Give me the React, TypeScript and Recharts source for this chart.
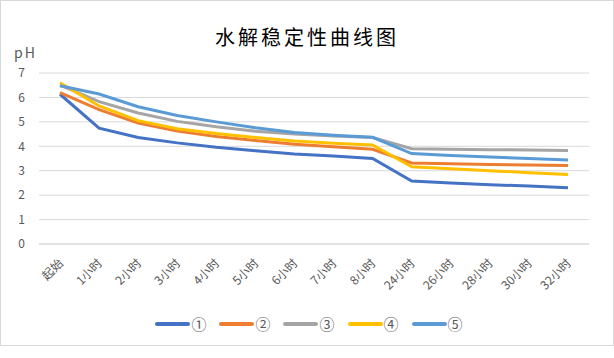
import React from 'react';
import { LineChart, Line, XAxis, YAxis, CartesianGrid, Legend } from 'recharts';

const categories = ['起始', '1小时', '2小时', '3小时', '4小时', '5小时', '6小时', '7小时', '8小时', '24小时', '26小时', '28小时', '30小时', '32小时'];
const s1 = [6.13, 4.74, 4.36, 4.14, 3.96, 3.82, 3.68, 3.6, 3.5, 2.58, 2.5, 2.43, 2.37, 2.3];
const s2 = [6.2, 5.5, 4.95, 4.62, 4.4, 4.24, 4.08, 3.98, 3.88, 3.32, 3.28, 3.25, 3.23, 3.21];
const s3 = [6.5, 5.83, 5.36, 5.02, 4.8, 4.62, 4.5, 4.42, 4.36, 3.9, 3.88, 3.86, 3.85, 3.83];
const s4 = [6.6, 5.65, 5.05, 4.72, 4.52, 4.36, 4.22, 4.12, 4.05, 3.16, 3.08, 3.0, 2.92, 2.85];
const s5 = [6.48, 6.14, 5.62, 5.26, 5.0, 4.76, 4.56, 4.45, 4.37, 3.7, 3.62, 3.56, 3.5, 3.44];
const seriesNames = ['①', '②', '③', '④', '⑤'];
const seriesColors = ['#4472C4', '#ED7D31', '#A5A5A5', '#FFC000', '#5B9BD5'];
const yTicks = [0, 1, 2, 3, 4, 5, 6, 7];

const allSeries = [s1, s2, s3, s4, s5];
const data = categories.map((c, i) => {
  const row: any = { name: c };
  allSeries.forEach((s, k) => { row['s' + k] = s[i]; });
  return row;
});

const font = '"Noto Sans CJK SC", "Microsoft YaHei", sans-serif';

const XTick = (props: any) => {
  const { x, y, payload } = props;
  const ax = x + 4;
  const ay = y + 12;
  return (
    <text x={ax} y={ay} transform={`rotate(-45, ${ax}, ${ay})`} textAnchor="end"
      fontSize={12} fill="#595959" fontFamily={font}>
      {payload.value}
    </text>
  );
};

const LegendContent = () => (
  <div style={{ display: 'flex', justifyContent: 'center', gap: 13, paddingLeft: 29, fontFamily: font, fontSize: 15, color: '#595959' }}>
    {seriesNames.map((n, i) => (
      <div key={n} style={{ display: 'flex', alignItems: 'center' }}>
        <div style={{ width: 35, height: 4, borderRadius: 2, background: seriesColors[i], marginRight: 1 }} />
        <span>{n}</span>
      </div>
    ))}
  </div>
);

export default function App() {
  return (
    <div style={{ position: 'absolute', left: 0, top: 0, width: 614, height: 358, background: '#fff' }}>
      <div style={{ position: 'absolute', left: 0, top: 0, width: 612, height: 344, border: '1px solid #d9d9d9' }} />
      <div style={{ position: 'absolute', left: 0, width: 614, top: 22, textAlign: 'center', fontFamily: font, fontSize: 20, letterSpacing: 3, color: '#000' }}>
        水解稳定性曲线图
      </div>
      <div style={{ position: 'absolute', left: 14, top: 42, fontFamily: font, fontSize: 14, letterSpacing: 2, color: '#595959' }}>
        pH
      </div>
      <LineChart width={614} height={358} data={data} margin={{ top: 73, right: 25, bottom: 23, left: 0 }}
        style={{ position: 'absolute', left: 0, top: 0 }}>
        <CartesianGrid vertical={false} stroke="#d9d9d9" />
        <XAxis dataKey="name" interval={0} tick={<XTick />} tickLine={false} axisLine={{ stroke: '#d9d9d9' }}
          height={70} padding={{ left: 21, right: 21 }} />
        <YAxis domain={[0, 7]} ticks={yTicks} width={39} tickLine={false} axisLine={false} dx={-6}
          tick={{ fontSize: 12, fill: '#595959', fontFamily: font }} />
        <Legend content={<LegendContent />} verticalAlign="bottom" wrapperStyle={{ bottom: 24 }} />
        {allSeries.map((_, k) => (
          <Line key={k} dataKey={'s' + k} name={seriesNames[k]} stroke={seriesColors[k]} strokeWidth={3}
            dot={false} isAnimationActive={false} />
        ))}
      </LineChart>
    </div>
  );
}
